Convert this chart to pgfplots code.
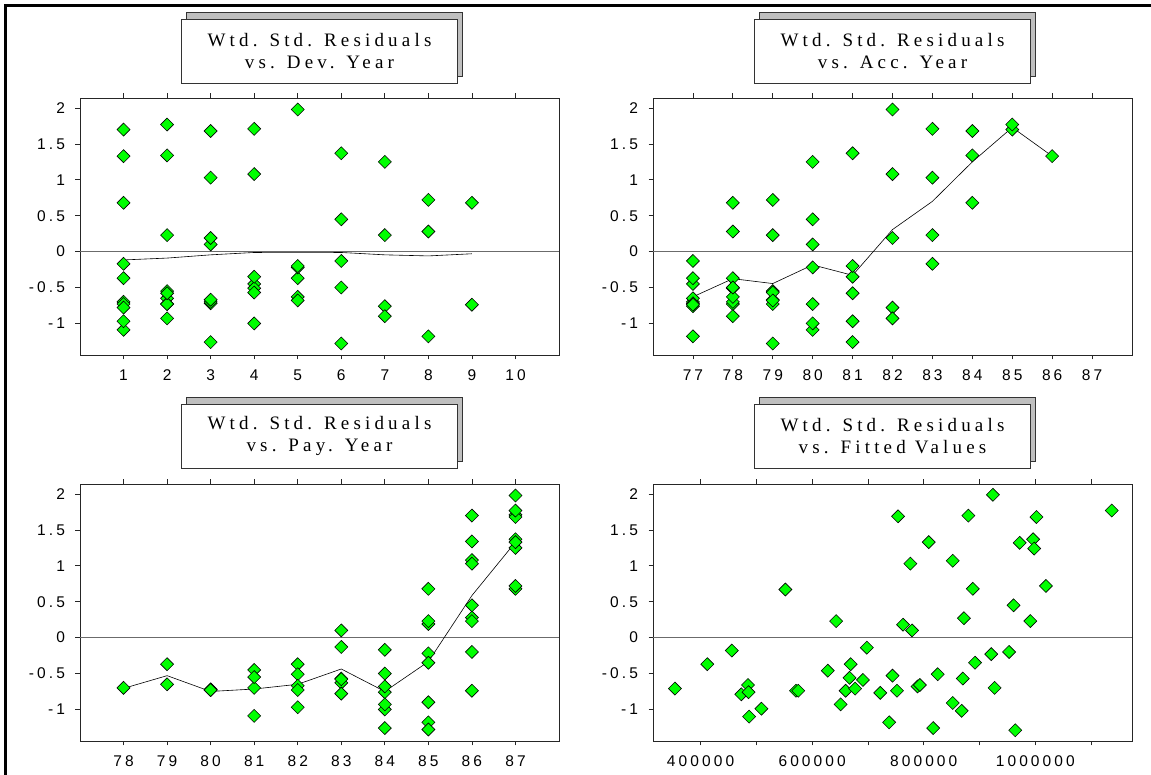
\documentclass[border=0pt]{standalone}
\usepackage{pgfplots}
\pgfplotsset{compat=1.18}
\usepackage{pgfplotstable}
\usepackage{fontspec}
\setmainfont{Liberation Sans}
\newfontfamily\titlefont[LetterSpace=22]{Liberation Serif}
\newfontfamily\tickfont[LetterSpace=20]{Liberation Sans}

% residual triangle: accident year, development year, payment year, residual
\pgfplotstableread{
acc dev pay res
77 1 78 -0.70
77 2 79 -0.65
77 3 80 -0.72
77 4 81 -0.45
77 5 82 -0.37
77 6 83 -0.13
77 7 84 -0.76
77 8 85 -1.18
77 9 86 -0.74
78 1 79 -0.37
78 2 80 -0.73
78 3 81 -0.70
78 4 82 -0.51
78 5 83 -0.63
78 6 84 -0.50
78 7 85 -0.90
78 8 86 0.28
78 9 87 0.68
79 1 80 -0.73
79 2 81 -0.55
79 3 82 -0.67
79 4 83 -0.57
79 5 84 -0.68
79 6 85 -1.28
79 7 86 0.23
79 8 87 0.72
80 1 81 -1.09
80 2 82 -0.73
80 3 83 0.10
80 4 84 -1.00
80 5 85 -0.22
80 6 86 0.45
80 7 87 1.25
81 1 82 -0.97
81 2 83 -0.58
81 3 84 -1.26
81 4 85 -0.35
81 5 86 -0.20
81 6 87 1.37
82 1 83 -0.78
82 2 84 -0.93
82 3 85 0.19
82 4 86 1.08
82 5 87 1.98
83 1 84 -0.17
83 2 85 0.23
83 3 86 1.03
83 4 87 1.71
84 1 85 0.68
84 2 86 1.34
84 3 87 1.68
85 1 86 1.70
85 2 87 1.77
86 1 87 1.33
}\tri

\pgfplotstableread{
fit res
354000 -0.71
412000 -0.37
456000 -0.18
473000 -0.79
485000 -0.66
486000 -0.76
487000 -1.10
509000 -0.99
552000 0.67
571000 -0.74
575000 -0.74
628000 -0.46
643000 0.23
651000 -0.93
660000 -0.74
667000 -0.56
669000 -0.37
677000 -0.71
691000 -0.59
698000 -0.14
722000 -0.77
738000 -1.18
744000 -0.53
752000 -0.74
754000 1.69
763000 0.18
776000 1.03
779000 0.10
789000 -0.68
793000 -0.66
809000 1.33
817000 -1.26
825000 -0.51
852000 1.07
852000 -0.91
868000 -1.02
870000 -0.57
872000 0.27
880000 1.70
888000 0.68
892000 -0.35
921000 -0.23
924000 1.99
927000 -0.70
953000 -0.20
961000 0.45
964000 -1.29
972000 1.32
991000 0.23
996000 1.37
998000 1.24
1002000 1.68
1019000 0.72
1137000 1.77
}\fitted

\pgfplotsset{
  panel/.style={
    scale only axis, width=479pt, height=257pt,
    anchor=south west,
    ymin=-1.44, ymax=2.14,
    axis line style={black!85, line width=0.8pt},
    tick style={black!85, line width=0.8pt},
    tick align=outside,
    major tick length=4.5pt, minor tick length=4.5pt,
    xtick pos=both, xticklabel pos=lower, ytick pos=left,
    ytick={-1,-0.5,0,0.5,1,1.5,2},
    yticklabels={-1,-0.5,0,0.5,1,1.5,2},
    tick label style={font=\tickfont\fontsize{15.5}{18}\selectfont, black},
    yticklabel style={xshift=-7pt},
    xticklabel style={yshift=-7pt},
    scaled x ticks=false,
    axis background/.style={fill=white},
  },
  resid/.style={only marks, mark=square*, mark size=4.6pt,
    mark options={rotate=45, fill=green, draw=black, line width=0.6pt}},
  trend/.style={black, line width=0.6pt, mark=none},
  zero/.style={black!58, line width=1.3pt, forget plot},
}

\newcommand{\titlebox}[3]{%
  \filldraw[fill=black!25, draw=black!80, line width=0.7pt] (#1-138+5, #2+7) rectangle (#1+138+5, #2+64+7);
  \filldraw[fill=white, draw=black!80, line width=0.7pt] (#1-138, #2) rectangle (#1+138, #2+64);
  \node[font=\titlefont\fontsize{19}{21.5}\selectfont, align=center, inner sep=0pt] at (#1, #2+32) {Wtd. Std. Residuals\\#3};
}

\begin{document}
\begin{tikzpicture}[x=1pt, y=1pt]
\useasboundingbox (0,0) rectangle (1151,775);
\draw[line width=2.5pt] (5.3,-5) -- (5.3,769.5) -- (1160,769.5);

% Panel 1: vs Dev. Year
\begin{axis}[panel, at={(80pt,420pt)},
  xmin=0, xmax=11,
  xtick={1,...,10}, xticklabels={1,2,3,4,5,6,7,8,9,10}]
  \addplot[zero] coordinates {(0,0) (11,0)};
  \addplot[trend] coordinates {(1,-0.116) (2,-0.09) (3,-0.045) (4,-0.012) (5,-0.01) (6,-0.012) (7,-0.045) (8,-0.06) (9,-0.03)};
  \addplot[resid] table[x=dev, y=res] {\tri};
\end{axis}

% Panel 2: vs Acc. Year
\begin{axis}[panel, at={(653pt,420pt)},
  xmin=76, xmax=88,
  xtick={77,...,87}, xticklabels={77,78,79,80,81,82,83,84,85,86,87}]
  \addplot[zero] coordinates {(76,0) (88,0)};
  \addplot[trend] coordinates {(77,-0.63) (78,-0.377) (79,-0.445) (80,-0.185) (81,-0.33) (82,0.307) (83,0.70) (84,1.25) (85,1.73) (86,1.33)};
  \addplot[resid] table[x=acc, y=res] {\tri};
\end{axis}

% Panel 3: vs Pay. Year
\begin{axis}[panel, at={(80pt,34pt)},
  xmin=77, xmax=88,
  xtick={78,...,87}, xticklabels={78,79,80,81,82,83,84,85,86,87}]
  \addplot[zero] coordinates {(77,0) (88,0)};
  \addplot[trend] coordinates {(78,-0.707) (79,-0.53) (80,-0.75) (81,-0.716) (82,-0.65) (83,-0.437) (84,-0.75) (85,-0.335) (86,0.586) (87,1.33)};
  \addplot[resid] table[x=pay, y=res] {\tri};
\end{axis}

% Panel 4: vs Fitted Values
\begin{axis}[panel, at={(653pt,34pt)},
  xmin=314700, xmax=1173300,
  xtick={400000,600000,800000,1000000},
  xticklabels={400000,600000,800000,1000000},
  minor xtick={500000,700000,900000,1100000}]
  \addplot[zero] coordinates {(314700,0) (1173300,0)};
  \addplot[resid] table[x=fit, y=res] {\fitted};
\end{axis}

\titlebox{319.5}{692}{vs. Dev. Year}
\titlebox{892.5}{692}{vs. Acc. Year}
\titlebox{319.5}{307}{vs. Pay. Year}
\titlebox{892.5}{307}{vs. Fitted Values}
\end{tikzpicture}
\end{document}
